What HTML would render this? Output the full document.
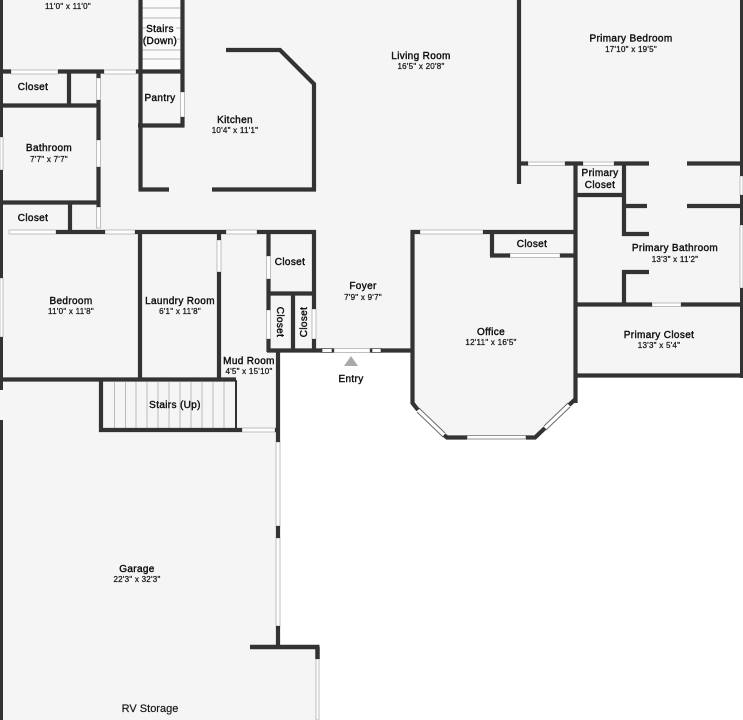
<!DOCTYPE html>
<html><head><meta charset="utf-8"><style>
html,body{margin:0;padding:0;background:#fff}
svg{display:block}
text{font-family:"Liberation Sans",sans-serif;text-anchor:middle;fill:#111}
.n{font-size:10px;font-weight:400;letter-spacing:.35px;stroke:#111;stroke-width:.42px}
.d{font-size:8px;letter-spacing:.25px;stroke:#222;stroke-width:.28px}
.w{stroke:#333;stroke-linecap:butt;fill:none;stroke-width:4.2}
.g{fill:#fdfdfd;stroke:#b8b8b8;stroke-width:.9}
.t{stroke:#b4b4b4;stroke-width:.9}
</style></head><body>
<svg width="743" height="720" viewBox="0 0 743 720" xmlns="http://www.w3.org/2000/svg">
<rect width="743" height="720" fill="#fff"/>
<polygon fill="#f5f5f5" points="0,0 743,0 743,377 576,377 576,403 531,438 446,438 412,403 412,351 278,351 278,647 318,647 318,720 0,720"/>
<polygon fill="#fafafa" points="142,0 181,0 181,70 142,70"/>
<g class="t">
<path d="M142 8H181M142 18H181M142 28H146M176 28H181M142 39H146M177 39H181M142 50H181M142 59H181"/>
<path d="M114.500 382V428M125.500 382V428M136 382V428M147 382V428M158 382V428M169 382V428M180 382V428M191 382V428M202 382V428M213 382V428M224 382V428"/>
</g>
<!-- windows -->
<g class="g">
<rect x="11" y="70" width="47" height="4"/><rect x="104" y="70" width="32" height="4"/>
<rect x="96.500" y="78" width="4" height="22"/><rect x="96.500" y="140" width="4" height="27"/><rect x="96.500" y="207" width="4" height="21"/>
<rect x="9" y="230" width="47" height="4"/><rect x="105" y="230" width="30" height="4"/>
<rect x="0" y="137" width="3" height="33"/><rect x="0" y="278" width="3" height="59"/>
<rect x="180.500" y="92" width="4" height="25"/>
<rect x="217" y="240" width="4" height="32"/><rect x="226" y="230" width="31" height="4"/>
<rect x="266.500" y="256" width="4" height="23"/><rect x="266.500" y="310" width="4" height="29"/><rect x="312" y="309" width="4" height="30"/>
<rect x="242" y="428" width="33" height="4"/>
<rect x="276" y="442" width="4" height="84"/><rect x="276" y="538" width="4" height="88"/>
<rect x="316" y="659" width="3" height="61"/>
<rect x="322" y="348.500" width="10" height="4" stroke="#666"/><rect x="334" y="348.500" width="36" height="4"/><rect x="372" y="348.500" width="9" height="4" stroke="#666"/>
<rect x="420" y="230" width="63" height="4"/><rect x="510" y="253.500" width="50" height="4"/>
<rect x="467" y="435.500" width="59" height="3.500" stroke="#888"/>
<rect x="528" y="162" width="37" height="3.500"/><rect x="583" y="162" width="31" height="3.500"/>
<rect x="652" y="303" width="29" height="3.500"/>
<rect x="740" y="176" width="3" height="19"/><rect x="740" y="225" width="3" height="63"/>
</g>
<path d="M418 410L444 435" stroke="#fdfdfd" stroke-width="4"/><path d="M419 408L445 433M417 412L443 437" stroke="#666" stroke-width=".9"/>
<path d="M545 428L569 405" stroke="#fdfdfd" stroke-width="4"/><path d="M544 426L568 403M546 430L570 407" stroke="#666" stroke-width=".9"/>
<!-- walls -->
<g class="w">
<path d="M1.500 0V137M1.500 170V278M1.500 337V390M1.500 420V720" stroke-width="3"/>
<path d="M0 71.500H11M58 71.500H104M136 71.500H182"/>
<path d="M69 71V105M0 105.500H100M98.500 71V78M98.500 100V140M98.500 167V207M0 202.500H100M70 202V231"/>
<path d="M0 232H3M56 232H105M135 232H226M257 232H316"/>
<path d="M140.500 0V190M182.500 0V92M182.500 117V127M138 125.500H184.500M138.500 189.500H169M212 189.500H316"/>
<path d="M226 50H280L314 84V191"/>
<path d="M140 232V380M219 232V240M219 272V380"/>
<path d="M268.500 230V256M268.500 279V310M268.500 339V352M314 230V309M314 339V352M267 293.500H314M293 293V350"/>
<path d="M267 350.500H322M332 350.500H334M370 350.500H372M381 350.500H412"/>
<path d="M278 350V442M278 526V538M278 626V648"/>
<path d="M0 379.500H236M101 380V432M99 430H242M275 430H278"/>
<path d="M236 380V430" stroke-width="2"/>
<path d="M250 647H319.500M317.500 647V659" stroke-width="4.500"/>
<path d="M519 0V184M520 163.500H528M565 163.500H583M614 163.500H649M687 163.500H743"/>
<path d="M575.500 163V403M624 163V236M575 195H624M624 206H647M687 206H743M622 234H649M649 272H624V304"/>
<path d="M575 304.500H652M681 304.500H743M575 375.500H743"/>
<path d="M741.500 0V176M741.500 195V225M741.500 288V378" stroke-width="3"/>
<path d="M420 232H412.500V403L418 410M483 232H575M492 232V256M490 255.500H510M560 255.500H575"/>
<path d="M444 435L447 437.500H467M526 437.500H535L545 428M569 405L575.500 399"/>
</g>
<polygon points="344,366 358,366 351,356" fill="#aaa"/>
<!-- labels -->
<text class="d" x="68" y="9">11'0" x 11'0"</text>
<text class="n" x="160" y="32">Stairs</text><text class="n" x="160" y="44">(Down)</text>
<text class="n" x="160" y="101">Pantry</text>
<text class="n" x="235" y="123">Kitchen</text><text class="d" x="235" y="133">10'4" x 11'1"</text>
<text class="n" x="421" y="59">Living Room</text><text class="d" x="421" y="69">16'5" x 20'8"</text>
<text class="n" x="631" y="41.500">Primary Bedroom</text><text class="d" x="631" y="52">17'10" x 19'5"</text>
<text class="n" x="33" y="90">Closet</text>
<text class="n" x="49" y="151">Bathroom</text><text class="d" x="49" y="162">7'7" x 7'7"</text>
<text class="n" x="33" y="221">Closet</text>
<text class="n" x="71" y="304">Bedroom</text><text class="d" x="71" y="314">11'0" x 11'8"</text>
<text class="n" x="180" y="304">Laundry Room</text><text class="d" x="180" y="314">6'1" x 11'8"</text>
<text class="n" x="290" y="265">Closet</text>
<text class="n" transform="translate(277,322) rotate(90)">Closet</text>
<text class="n" transform="translate(307,322) rotate(-90)">Closet</text>
<text class="n" x="249" y="364">Mud Room</text><text class="d" x="249" y="374">4'5" x 15'10"</text>
<text class="n" x="175" y="408">Stairs (Up)</text>
<text class="n" x="363" y="289">Foyer</text><text class="d" x="363" y="300">7'9" x 9'7"</text>
<text class="n" x="351" y="382">Entry</text>
<text class="n" x="491" y="335">Office</text><text class="d" x="491" y="345">12'11" x 16'5"</text>
<text class="n" x="532" y="247">Closet</text>
<text class="n" x="600" y="176">Primary</text><text class="n" x="600" y="188">Closet</text>
<text class="n" x="675" y="251">Primary Bathroom</text><text class="d" x="675" y="262">13'3" x 11'2"</text>
<text class="n" x="659" y="338">Primary Closet</text><text class="d" x="659" y="348">13'3" x 5'4"</text>
<text class="n" x="137" y="572">Garage</text><text class="d" x="137" y="582">22'3" x 32'3"</text>
<text x="150" y="712" style="font-size:11px;stroke:#111;stroke-width:.15px">RV Storage</text>
</svg>
</body></html>
